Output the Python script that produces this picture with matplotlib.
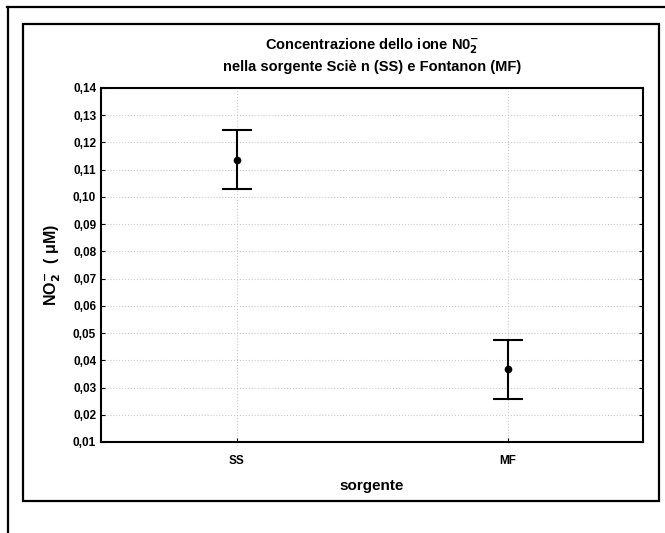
import numpy as np
import matplotlib.pyplot as plt
from matplotlib.lines import Line2D
from matplotlib.patches import Rectangle
from matplotlib.ticker import FuncFormatter, MultipleLocator

plt.rcParams['font.family'] = ['Liberation Sans', 'DejaVu Sans']
plt.rcParams['font.weight'] = 'bold'

categories = ['SS', 'MF']
means = [0.1135, 0.0367]
upper = [0.1246, 0.0474]
lower = [0.1029, 0.0258]

W, H = 665, 533
fig = plt.figure(figsize=(W / 100, H / 100), dpi=100)

# cornice esterna e interna
fig.add_artist(Line2D([7 / W, 1], [1 - 7 / H, 1 - 7 / H], color='black', lw=1.6))
fig.add_artist(Line2D([8 / W, 8 / W], [1 - 7 / H, 0], color='black', lw=1.6))
fig.add_artist(Rectangle((23 / W, 1 - 501 / H), (659 - 23) / W, (501 - 24) / H,
                         fill=False, edgecolor='black', lw=1.6))

ax = fig.add_axes([101 / W, 1 - 442 / H, (643 - 101) / W, (442 - 88) / H])

x = np.arange(len(categories))
m = np.array(means)
err = [m - np.array(lower), np.array(upper) - m]
ax.errorbar(x, m, yerr=err, fmt='o', color='black', ms=4.5, elinewidth=1.5,
            capsize=11, capthick=1.5)

ax.set_xlim(-0.5, 1.5)
ax.set_ylim(0.01, 0.14)
ax.yaxis.set_major_locator(MultipleLocator(0.01))
ax.yaxis.set_major_formatter(FuncFormatter(lambda v, p: f'{v:.2f}'.replace('.', ',')))
ax.set_xticks(x)
ax.set_xticklabels(categories)
ax.tick_params(direction='in', labelsize=8.5, length=3, right=True)
ax.tick_params(axis='x', pad=9)
ax.grid(True, color='#cccccc', linestyle=':', linewidth=0.8)
for s in ax.spines.values():
    s.set_linewidth(1.5)

ax.set_title('Concentrazione dello ione N0$_2^{\\mathbf{-}}$\nnella sorgente Sciè n (SS) e Fontanon (MF)',
             fontsize=10.5, fontweight='bold', pad=12, linespacing=1.35)
ax.set_xlabel('sorgente', fontsize=11, fontweight='bold', labelpad=9)
ax.set_ylabel('NO$_2^{\\mathbf{-}}$  ( μM)', fontsize=11.5, fontweight='bold', labelpad=7)

fig.savefig('out.png', dpi=100)
